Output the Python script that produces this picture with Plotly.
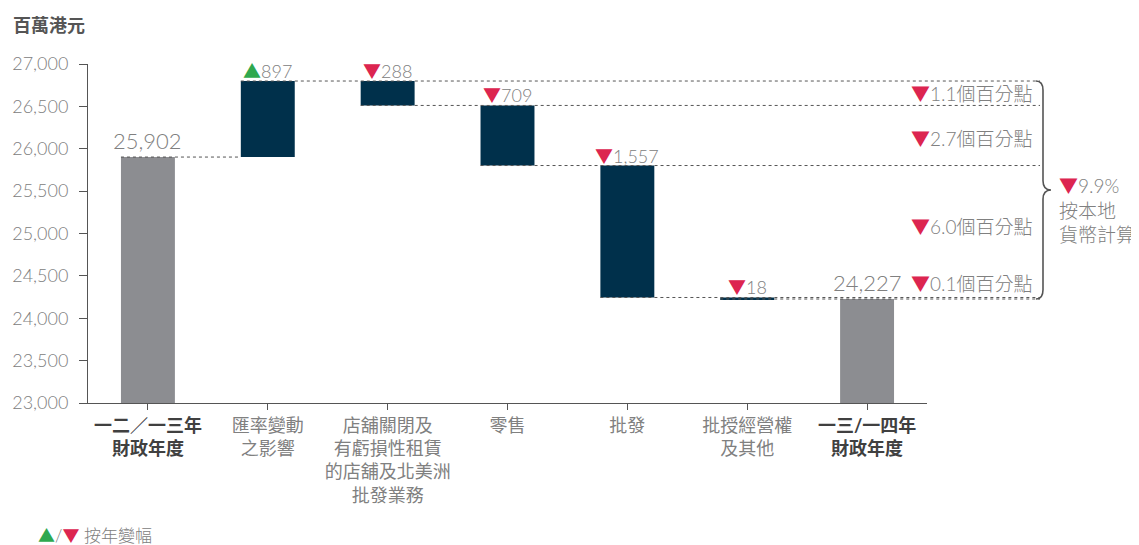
import plotly.graph_objects as go

# ---- data ----
categories = ["一二／一三年<br>財政年度", "匯率變動<br>之影響",
              "店舖關閉及<br>有虧損性租賃<br>的店舖及北美洲<br>批發業務",
              "零售", "批發", "批授經營權<br>及其他", "一三/一四年<br>財政年度"]
start_value = 25902
changes = [897, -288, -709, -1557, -18]
end_value = 24227
pct_labels = ["1.1", "2.7", "6.0", "0.1"]
total_pct = "9.9%"
y_ticks = [23000, 23500, 24000, 24500, 25000, 25500, 26000, 26500, 27000]

# ---- derived ----
GRAY = "#8c8d91"
NAVY = "#00304b"
RED = "#dc2550"
GREEN = "#2fa84f"
TXT = "#808080"
FONT = "Lato, Noto Sans CJK TC"

bases, heights, colors = [0], [start_value], [GRAY]
levels = [start_value]
cur = start_value
for c in changes:
    nxt = cur + c
    bases.append(min(cur, nxt))
    heights.append(abs(c))
    colors.append(NAVY)
    levels.append(nxt)
    cur = nxt
bases.append(0)
heights.append(end_value)
colors.append(GRAY)

n = len(categories)
xidx = list(range(n))
bw = 0.45

fig = go.Figure()
fig.add_trace(go.Bar(x=xidx, y=heights, base=bases, marker_color=colors,
                     marker_line_width=0, width=bw, hoverinfo="skip"))

# page layout (page body has an 8px margin)
OFF = 8
W, H = 1139 - OFF, 545 - OFF
PL, PR, PT, PB = 88, 927, 64, 403  # plot area in page pixels


def px_to_paper(px):
    return (px - PL) / (PR - PL)


def py_to_paper(py):
    return (PB - py) / (PB - PT)


right_end = px_to_paper(1040)
shapes = []
dot = dict(color="#555555", width=1, dash="dot")
shapes.append(dict(type="line", xref="paper", yref="y",
                   x0=(0 - bw / 2 + 0.5) / n, x1=(1 - bw / 2 + 0.5) / n,
                   y0=start_value, y1=start_value, line=dot))
for k in range(len(changes)):
    i = k + 1
    shapes.append(dict(type="line", xref="paper", yref="y",
                       x0=(i - bw / 2 + 0.5) / n, x1=right_end,
                       y0=levels[k + 1], y1=levels[k + 1], line=dot))

# brace
top, bot = levels[1], end_value
mid = (top + bot) / 2
xa, xb, xc = px_to_paper(1036), px_to_paper(1043), px_to_paper(1051)
r = 110
path = (f"M {xa},{top} Q {xb},{top} {xb},{top - r} L {xb},{mid + r} "
        f"Q {xb},{mid} {xc},{mid} Q {xb},{mid} {xb},{mid - r} "
        f"L {xb},{bot + r} Q {xb},{bot} {xa},{bot}")
shapes.append(dict(type="path", xref="paper", yref="y", path=path,
                   line=dict(color="#555555", width=1.6)))

annotations = []
for xi, val in ((0, start_value), (n - 1, end_value)):
    annotations.append(dict(x=xi, y=val, xref="x", yref="y", text=f"{val:,}",
                            showarrow=False, yanchor="bottom", yshift=1,
                            font=dict(size=22, color=TXT, family=FONT, weight=300)))
for k, c in enumerate(changes):
    tri = f"<span style='color:{GREEN}'>▲</span>" if c > 0 else f"<span style='color:{RED}'>▼</span>"
    ytop = max(levels[k], levels[k + 1])
    annotations.append(dict(x=k + 1, y=ytop, xref="x", yref="y",
                            text=f"{tri}{abs(c):,}", showarrow=False,
                            yanchor="bottom", yshift=-3,
                            font=dict(size=18, color=TXT, family=FONT, weight=300)))

rx = px_to_paper(1035)
yshifts = [0, -3, 5, 0]
for k, p in enumerate(pct_labels):
    i = k + 1
    a, b = levels[i], levels[i + 1]
    if k < 3:
        ypos, ya = (a + b) / 2, "middle"
    else:
        ypos, ya = max(a, b), "bottom"
    annotations.append(dict(x=rx, y=ypos, xref="paper", yref="y", xanchor="right",
                            yanchor=ya, showarrow=False, yshift=yshifts[k],
                            text=f"<span style='color:{RED}'>▼</span>{p}個百分點",
                            font=dict(size=19, color=TXT, family=FONT, weight=300)))
annotations.append(dict(x=px_to_paper(1057), y=mid, xref="paper", yref="y",
                        xanchor="left", yanchor="top", yshift=18, showarrow=False,
                        align="left",
                        text=f"<span style='color:{RED}'>▼</span>{total_pct}<br>按本地<br>貨幣計算",
                        font=dict(size=19, color=TXT, family=FONT, weight=300)))

annotations.append(dict(x=px_to_paper(11), y=py_to_paper(25), xref="paper", yref="paper",
                        xanchor="left", yanchor="middle", showarrow=False,
                        text="<b>百萬港元</b>",
                        font=dict(size=18, color="#555555", family=FONT)))
annotations.append(dict(x=px_to_paper(36), y=py_to_paper(535), xref="paper", yref="paper",
                        xanchor="left", yanchor="middle", showarrow=False,
                        text=f"<span style='color:{GREEN}'>▲</span>/<span style='color:{RED}'>▼</span> 按年變幅",
                        font=dict(size=17, color=TXT, family=FONT, weight=300)))

ticktext = []
for i, c in enumerate(categories):
    if i == 0 or i == n - 1:
        ticktext.append(f"<b><span style='color:#404040'>{c}</span></b>")
    else:
        ticktext.append(c)

fig.update_layout(
    width=W, height=H,
    margin=dict(l=PL - OFF, r=W - (PR - OFF), t=PT - OFF, b=H - (PB - OFF)),
    plot_bgcolor="white", paper_bgcolor="white",
    showlegend=False, shapes=shapes, annotations=annotations,
    font=dict(family=FONT, color=TXT),
)
fig.update_xaxes(range=[-0.5, n - 0.5], tickmode="array", tickvals=xidx, ticktext=ticktext,
                 showgrid=False, showline=True, linecolor="#555555", linewidth=1,
                 ticks="outside", tickson="boundaries", ticklen=6, tickcolor="#555555",
                 tickfont=dict(size=18, color=TXT, family=FONT), zeroline=False,
                 automargin=False)
fig.update_yaxes(range=[23000, 27000], tickmode="array", tickvals=y_ticks,
                 tickformat=",", showgrid=False, showline=True, linecolor="#555555",
                 linewidth=1, ticks="outside", ticklen=8, tickcolor="#555555",
                 ticklabelstandoff=7,
                 tickfont=dict(size=18, color=TXT, family=FONT, weight=300), zeroline=False,
                 automargin=False)

fig.write_html("out.html")
